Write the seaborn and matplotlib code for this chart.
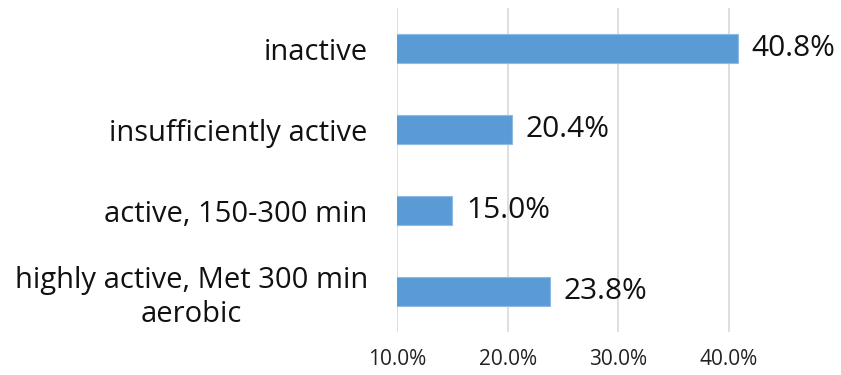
import matplotlib
matplotlib.use("Agg")
import matplotlib.pyplot as plt
import seaborn as sns
import pandas as pd
from matplotlib.ticker import PercentFormatter, FixedLocator

categories = ["inactive", "insufficiently active", "active, 150-300 min",
              "highly active, Met 300 min\naerobic"]
values = [40.8, 20.4, 15.0, 23.8]
xticks = [10, 20, 30, 40]

sns.set_theme(style="white")
plt.rcParams['font.family'] = ['Open Sans', 'DejaVu Sans']

df = pd.DataFrame({"category": categories, "value": values})

fig = plt.figure(figsize=(8.41, 3.75), dpi=100)
ax = fig.add_axes([397/841, 1 - 332/375, 387/841, 324/375])

sns.barplot(data=df, x="value", y="category", color="#5B9BD5", width=0.35,
            saturation=1, edgecolor="#8DBBE6", linewidth=0.8, ax=ax, zorder=3)

ax.set_xlim(10, 45)
ax.set_ylim(3.5, -0.5)
ax.xaxis.set_major_locator(FixedLocator(xticks))
ax.xaxis.set_major_formatter(PercentFormatter(decimals=1))
ax.grid(axis="x", color="#D9D9D9", linewidth=1.2, zorder=0)
ax.grid(axis="y", visible=False)
for s in ax.spines.values():
    s.set_visible(False)
ax.set_xlabel("")
ax.set_ylabel("")
ax.tick_params(axis="x", length=0, labelsize=15, pad=12, labelcolor="#222222")
ax.tick_params(axis="y", length=0, labelsize=21, pad=21, labelcolor="#111111")
for lab in ax.get_yticklabels():
    lab.set_multialignment("center")
    lab.set_linespacing(1.25)

for c in ax.containers:
    ax.bar_label(c, labels=[f"{v:.1f}%" for v in values], padding=10,
                 fontsize=21.5, color="#111111")

fig.savefig("out.png", dpi=100)
